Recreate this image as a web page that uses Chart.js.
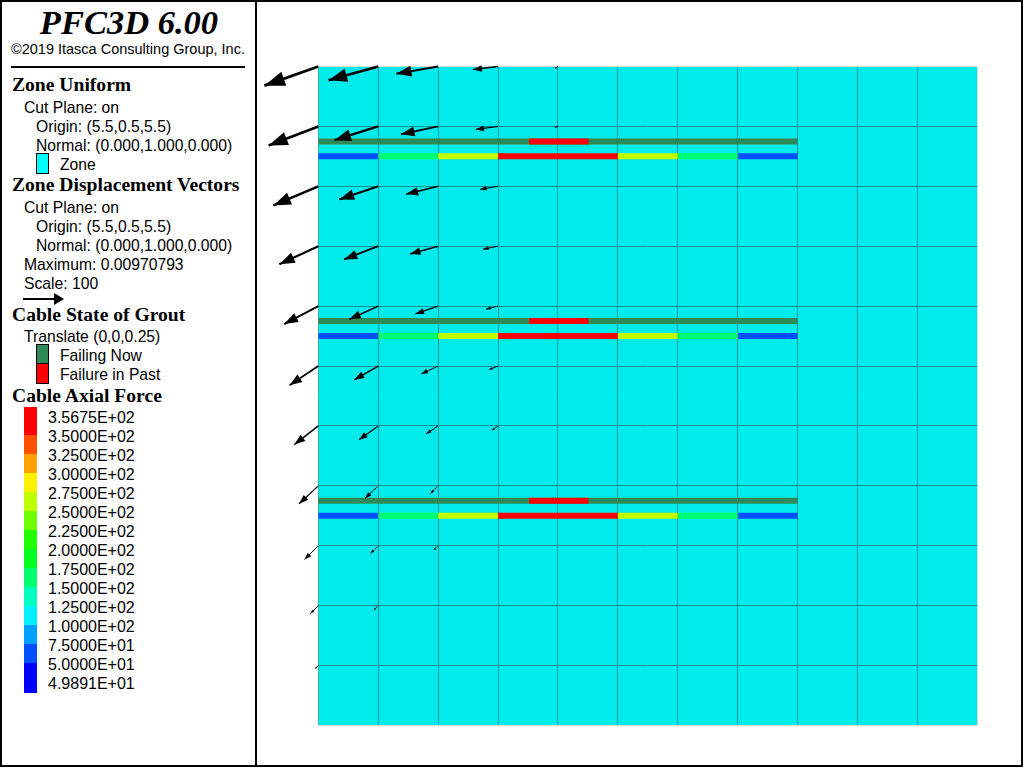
<!DOCTYPE html>
<html lang="en">
<head>
    <meta charset="UTF-8">
    <title>PFC3D 6.00</title>
    <script src="https://cdn.jsdelivr.net/npm/chart.js"></script>
    <style>
        html, body { margin: 0; padding: 0; background: #fff; }
        #frame { position: absolute; left: 0; top: 0; width: 1023px; height: 767px; box-sizing: border-box; border: 2px solid #000; overflow: hidden; }
        #divider { position: absolute; left: 255px; top: 0; width: 2px; height: 767px; background: #000; }
        #panel { position: absolute; left: 0; top: 0; width: 255px; height: 767px; }
        #panel div { position: absolute; white-space: nowrap; color: #000; }
        .head { font: bold 19.6px "Liberation Serif", serif; line-height: 20px; height: 20px; }
        .txt { font: 15.7px "Liberation Sans", Arial, sans-serif; line-height: 18px; height: 18px; }
        #chartBox { position: absolute; left: 257px; top: 2px; }
    </style>
</head>
<body>
    <div id="panel"></div>
    <div id="frame"></div>
    <div id="divider"></div>
    <div id="chartBox"><canvas id="myChart" width="764" height="763"></canvas></div>

    <script>
        // zone grid, model units
        const gridSize = 11;
        const zoneColor = "#00ecec";
        const gridColor = "#009393";

        // displacement vectors (scale 100), one column of nodes per array pair, rows z = 11 .. 1
        const rowZ = [11, 10, 9, 8, 7, 6, 5, 4, 3, 2, 1];
        const dx0 = [-0.90, -0.83, -0.75, -0.65, -0.57, -0.48, -0.40, -0.32, -0.23, -0.13, -0.05];
        const dz0 = [-0.32, -0.32, -0.32, -0.30, -0.30, -0.32, -0.31, -0.30, -0.23, -0.13, -0.05];
        const dx1 = [-0.83, -0.73, -0.65, -0.57, -0.48, -0.40, -0.32, -0.22, -0.13, -0.07];
        const dz1 = [-0.23, -0.23, -0.22, -0.22, -0.22, -0.23, -0.23, -0.21, -0.13, -0.07];
        const dx2 = [-0.70, -0.62, -0.53, -0.47, -0.38, -0.28, -0.20, -0.13, -0.07];
        const dz2 = [-0.12, -0.13, -0.13, -0.13, -0.13, -0.13, -0.13, -0.13, -0.07];
        const dx3 = [-0.42, -0.37, -0.30, -0.25, -0.20, -0.15, -0.10];
        const dz3 = [-0.05, -0.05, -0.05, -0.05, -0.05, -0.06, -0.07];
        const dx4 = [-0.05, -0.05];
        const dz4 = [-0.03, -0.02];
        const columnsX = [dx0, dx1, dx2, dx3, dx4];
        const columnsZ = [dz0, dz1, dz2, dz3, dz4];

        // cables
        const groutLevels = [9.75, 6.75, 3.75];
        const forceLevels = [9.5, 6.5, 3.5];
        const groutFailed = [3.52, 4.51];
        const cableEnd = 8;
        const segmentForce = [60, 160, 260, 352, 352, 260, 160, 60];

        // colour bar, top to bottom
        const forceLabels = ["3.5675E+02", "3.5000E+02", "3.2500E+02", "3.0000E+02", "2.7500E+02", "2.5000E+02", "2.2500E+02", "2.0000E+02",
            "1.7500E+02", "1.5000E+02", "1.2500E+02", "1.0000E+02", "7.5000E+01", "5.0000E+01", "4.9891E+01"];
        const bandLower = [350, 325, 300, 275, 250, 225, 200, 175, 150, 125, 100, 75, 50, 49.891];
        const bandColors = ["#ff0000", "#ff5000", "#ffa000", "#fff000", "#c0ff00", "#70ff00", "#20ff00", "#00ff20",
            "#00ff70", "#00ffc0", "#00f0ff", "#00a0ff", "#0050ff", "#0000ff"];

        function colorForForce(f) {
            const i = bandLower.findIndex(v => f >= v);
            return bandColors[i];
        }

        // ---- left legend panel ----
        const panel = document.getElementById("panel");
        function put(cls, text, x, y, extra) {
            const d = document.createElement("div");
            if (cls) d.className = cls;
            if (text) d.textContent = text;
            d.style.left = x + "px";
            d.style.top = y + "px";
            if (extra) Object.assign(d.style, extra);
            panel.appendChild(d);
            return d;
        }
        function swatch(x, y, w, h, color) {
            put("", "", x, y, { width: w + "px", height: h + "px", background: color, boxSizing: "border-box", border: "1px solid #000" });
        }

        put("", "PFC3D 6.00", 0, 2, { width: "258px", textAlign: "center", font: "italic bold 34.5px 'Liberation Serif', serif", lineHeight: "40px" });
        put("txt", "©2019 Itasca Consulting Group, Inc.", 11, 40, { fontSize: "14.5px" });
        put("", "", 11, 66, { width: "234px", height: "2px", background: "#000" });

        put("head", "Zone Uniform", 12, 75);
        put("txt", "Cut Plane: on", 24, 99);
        put("txt", "Origin: (5.5,0.5,5.5)", 36, 118);
        put("txt", "Normal: (0.000,1.000,0.000)", 36, 137);
        swatch(36, 153, 13, 21, "#00ffff");
        put("txt", "Zone", 60, 156);

        put("head", "Zone Displacement Vectors", 12, 175);
        put("txt", "Cut Plane: on", 24, 199);
        put("txt", "Origin: (5.5,0.5,5.5)", 36, 218);
        put("txt", "Normal: (0.000,1.000,0.000)", 36, 237);
        put("txt", "Maximum: 0.00970793", 24, 256);
        put("txt", "Scale: 100", 24, 275);
        put("", "", 23, 298, { width: "32px", height: "2px", background: "#000" });
        put("", "", 54, 293, { width: 0, height: 0, borderLeft: "10px solid #000", borderTop: "6px solid transparent", borderBottom: "6px solid transparent" });

        put("head", "Cable State of Grout", 12, 305);
        put("txt", "Translate (0,0,0.25)", 24, 328);
        swatch(36, 344, 13, 20, "#2e8b57");
        swatch(36, 363, 13, 21, "#ff0000");
        put("txt", "Failing Now", 60, 347);
        put("txt", "Failure in Past", 60, 366);

        put("head", "Cable Axial Force", 12, 386);
        bandColors.forEach((c, i) => {
            const top = i === 0 ? 407 : 416 + 19 * i;
            const h = i === 0 ? 28 : (i === bandColors.length - 1 ? 30 : 19);
            put("", "", 24, top, { width: "13px", height: h + "px", background: c });
        });
        forceLabels.forEach((t, i) => put("txt", t, 48, 409 + 19 * i, { fontSize: "16px" }));

        // ---- chart ----
        const datasets = [];

        // vectors go first so they are painted over the cables
        columnsX.forEach((col, c) => {
            col.forEach((dx, r) => {
                datasets.push({
                    isArrow: true,
                    data: [{ x: c, y: rowZ[r] }, { x: c + dx, y: rowZ[r] + columnsZ[c][r] }],
                    borderColor: "#000",
                    borderWidth: Math.max(1, Math.min(3, Math.hypot(dx, columnsZ[c][r]) * 3))
                });
            });
        });

        groutLevels.forEach(z => {
            datasets.push({
                data: [{ x: groutFailed[0], y: z }, { x: groutFailed[1], y: z }],
                borderColor: "#ff0000",
                borderWidth: 6
            });
            datasets.push({
                data: [{ x: 0, y: z }, { x: cableEnd, y: z }],
                borderColor: "#2e8b57",
                borderWidth: 6
            });
        });
        forceLevels.forEach(z => {
            segmentForce.forEach((f, i) => {
                datasets.push({
                    data: [{ x: i, y: z }, { x: i + 1, y: z }],
                    borderColor: colorForForce(f),
                    borderWidth: 6
                });
            });
        });

        // zone face under the grid lines
        const zonePlugin = {
            id: "zoneFace",
            beforeDraw(chart) {
                const { x, y } = chart.scales;
                const left = x.getPixelForValue(0), right = x.getPixelForValue(gridSize);
                const top = y.getPixelForValue(gridSize), bottom = y.getPixelForValue(0);
                chart.ctx.fillStyle = zoneColor;
                chart.ctx.fillRect(left, top, right - left, bottom - top);
            }
        };

        // arrow heads at the end of each vector line
        const arrowPlugin = {
            id: "arrowHeads",
            afterDatasetsDraw(chart) {
                const ctx = chart.ctx;
                chart.data.datasets.forEach((ds, i) => {
                    if (!ds.isArrow) return;
                    const pts = chart.getDatasetMeta(i).data;
                    const dx = pts[1].x - pts[0].x, dy = pts[1].y - pts[0].y;
                    const len = Math.hypot(dx, dy);
                    const ux = dx / len, uy = dy / len;
                    const hl = len * 0.36, hw = Math.max(1, hl * 0.36);
                    const bx = pts[1].x - ux * hl, by = pts[1].y - uy * hl;
                    ctx.fillStyle = "#000";
                    ctx.beginPath();
                    ctx.moveTo(pts[1].x, pts[1].y);
                    ctx.lineTo(bx - uy * hw, by + ux * hw);
                    ctx.lineTo(bx + uy * hw, by - ux * hw);
                    ctx.closePath();
                    ctx.fill();
                });
            }
        };

        function axis(edgeColor) {
            return {
                type: "linear",
                min: 0,
                max: gridSize,
                border: { display: false },
                ticks: { display: false, stepSize: 1 },
                grid: {
                    drawTicks: false,
                    lineWidth: 1,
                    color: c => (c.tick.value === 0 || c.tick.value === gridSize) ? edgeColor(c.tick.value) : gridColor
                }
            };
        }

        new Chart(document.getElementById("myChart"), {
            type: "scatter",
            data: { datasets: datasets },
            plugins: [zonePlugin, arrowPlugin],
            options: {
                responsive: false,
                animation: false,
                clip: false,
                showLine: true,
                layout: { padding: { left: 61.3, top: 64.5, right: 43.7, bottom: 39.5 } },
                elements: { point: { radius: 0, hoverRadius: 0 } },
                plugins: { legend: { display: false }, tooltip: { enabled: false } },
                events: [],
                scales: {
                    x: axis(v => v === 0 ? "#40b4b4" : "#cfdcdc"),
                    y: axis(() => "#cfdcdc")
                }
            }
        });
    </script>
</body>
</html>
